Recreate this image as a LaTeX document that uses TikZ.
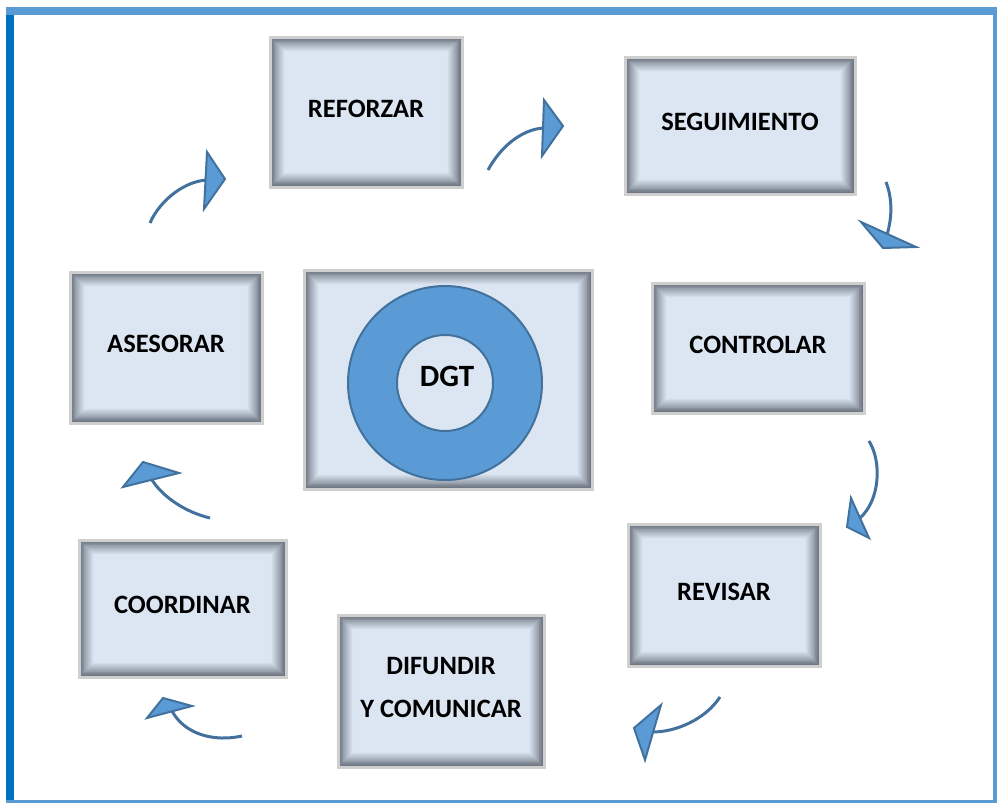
\documentclass[tikz,border=0pt]{standalone}
\usepackage{fontspec}
\setmainfont{Carlito}
\definecolor{boxfill}{HTML}{DCE6F2}
\definecolor{boxshade}{HTML}{6F7883}
\definecolor{boxedge}{HTML}{CFCFCF}
\definecolor{ringfill}{HTML}{5B9BD5}
\definecolor{ringedge}{HTML}{41719C}
\definecolor{frameleft}{HTML}{0070C0}
\tikzset{
  stagebox/.style={draw=boxedge, line width=3pt, fill=boxfill,
    font=\fontsize{26.5}{43}\selectfont\bfseries, align=center, text depth=7pt,
    path picture={
      \foreach \k [evaluate=\k as \p using int(100-\k*7),
                   evaluate=\k as \d using \k*0.9+1.5] in {0,...,14}
        \draw [line width=1.1pt, boxshade!\p!boxfill]
          ([shift={(\d pt,-\d pt)}]path picture bounding box.north west)
          rectangle ([shift={(-\d pt,\d pt)}]path picture bounding box.south east);
    }},
  shaft/.style={draw=ringedge, line width=3pt},
  head/.style={fill=ringfill, draw=ringedge, line width=2pt, line join=miter},
}
\begin{document}
\begin{tikzpicture}[x=1pt, y=-1pt]
  \useasboundingbox (0, 0) rectangle (997, 803);

  % Frame
  \draw [line width=8pt, ringfill] (6, 11) -- (997, 11);
  \draw [line width=8pt, frameleft] (10, 15) -- (10, 803);
  \draw [line width=4pt, ringfill] (995, 7) -- (995, 803);
  \draw [line width=3pt, ringfill] (6, 801.5) -- (997, 801.5);

  % Stages
  \node [stagebox, minimum width=192pt, minimum height=150pt]
        (reforzar) at (366, 112) {REFORZAR};
  \node [stagebox, minimum width=230pt, minimum height=137pt]
        (seguimiento) at (740, 125.5) {SEGUIMIENTO};
  \node [stagebox, minimum width=212pt, minimum height=130pt]
        (controlar) at (758, 348) {CONTROLAR};
  \node [stagebox, minimum width=192pt, minimum height=142pt]
        (revisar) at (724, 595) {REVISAR};
  \node [stagebox, minimum width=206pt, minimum height=152pt]
        (difundir) at (441, 691) {DIFUNDIR\\Y COMUNICAR};
  \node [stagebox, minimum width=207pt, minimum height=137pt]
        (coordinar) at (182.5, 608.5) {COORDINAR};
  \node [stagebox, minimum width=192pt, minimum height=151pt]
        (asesorar) at (166, 347.5) {ASESORAR};

  % Centre
  \node [stagebox, minimum width=288pt, minimum height=219pt]
        (centro) at (448, 379.5) {};
  \node [circle, minimum size=194pt, fill=ringfill, draw=ringedge,
         line width=2pt] (anillo) at (445, 383) {};
  \node [circle, minimum size=96pt, fill=boxfill, draw=ringedge,
         line width=2pt] (nucleo) at (445, 383) {};
  \node [font=\fontsize{31}{31}\selectfont\bfseries] (dgt) at (447, 376) {DGT};

  % Arrow ends
  \coordinate (a1) at (150, 223);  \coordinate (b1) at (207, 180);
  \coordinate (a2) at (488, 170);  \coordinate (b2) at (543, 128);
  \coordinate (a3) at (886, 182);  \coordinate (b3) at (886, 238);
  \coordinate (a4) at (869, 441);  \coordinate (b4) at (860, 518);
  \coordinate (a5) at (720, 697);  \coordinate (b5) at (653, 732);
  \coordinate (a6) at (242, 736);  \coordinate (b6) at (172, 711);
  \coordinate (a7) at (210, 518);  \coordinate (b7) at (152, 480);

  % Arrows
  \draw [shaft] (a1) .. controls (160, 200) and (185, 181) .. (b1);
  \draw [shaft] (a2) .. controls (500, 148) and (520, 130) .. (b2);
  \draw [shaft] (a3) .. controls (893, 200) and (892, 220) .. (b3);
  \draw [shaft] (a4) .. controls (882, 462) and (880, 500) .. (b4);
  \draw [shaft] (a5) .. controls (705, 720) and (675, 732) .. (b5);
  \draw [shaft] (a6) .. controls (215, 742) and (185, 735) .. (b6);
  \draw [shaft] (a7) .. controls (185, 512) and (163, 497) .. (b7);

  \draw [head] (207, 152) -- (225, 179) -- (204, 209) -- cycle;
  \draw [head] (544, 100) -- (563, 126) -- (542, 156) -- cycle;
  \draw [head] (861, 222) -- (916, 247) -- (883, 248) -- cycle;
  \draw [head] (851, 498) -- (869, 538) -- (847, 527) -- cycle;
  \draw [head] (661, 705) -- (645, 760) -- (634, 728) -- cycle;
  \draw [head] (163, 698) -- (192, 706) -- (147, 718) -- cycle;
  \draw [head] (143, 462) -- (179, 473) -- (123, 487) -- cycle;
\end{tikzpicture}
\end{document}
